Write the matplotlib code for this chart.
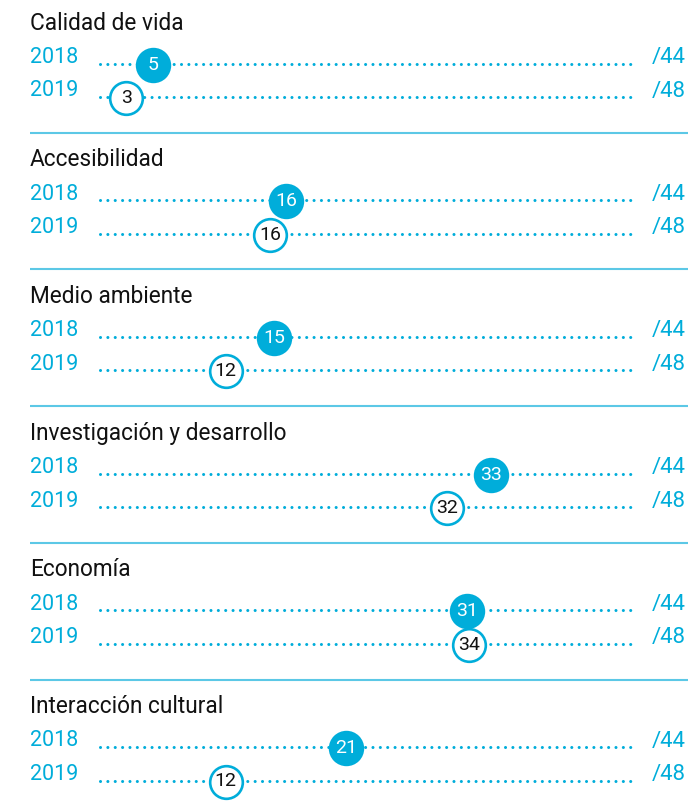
#!/usr/bin/env python3
"""
Ranking dot chart - 2018 vs 2019 positions per category.
"""

import matplotlib.pyplot as plt

categories = ["Calidad de vida", "Accesibilidad", "Medio ambiente",
              "Investigación y desarrollo", "Economía", "Interacción cultural"]
rank_2018 = [5, 16, 15, 33, 31, 21]
rank_2019 = [3, 16, 12, 32, 34, 12]
total_2018 = 44
total_2019 = 48
years = ["2018", "2019"]

CYAN = "#00ADDA"
LINE = "#5CC8E6"

W, H = 688, 810
X0, XW = 93, 531          # px where rank 0 / full scale sit
SEC = 136.7               # section height in px
TOP = -4.0                # px of (virtual) separator above first section

plt.rcParams['font.family'] = ['Roboto', 'DejaVu Sans']

fig = plt.figure(figsize=(W / 100, H / 100), dpi=100)
ax = fig.add_axes([0, 0, 1, 1])
ax.set_xlim(-X0 / XW, (W - X0) / XW)
ax.set_ylim(H, 0)
ax.axis('off')


def fx(px):
    return (px - X0) / XW


for i, cat in enumerate(categories):
    base = TOP + i * SEC
    if i > 0:
        ax.plot([fx(30), fx(W)], [base, base], color=LINE, lw=1.5,
                solid_capstyle='butt')
    ax.text(fx(30), base + 27, cat, fontsize=16.3, color='#111111',
            va='center', ha='left')

    rows = [(rank_2018[i], total_2018, True), (rank_2019[i], total_2019, False)]
    for j, (r, tot, filled) in enumerate(rows):
        ly = base + 67.5 + j * 33.5
        ax.text(fx(30), ly - 6, years[j], fontsize=15.5, color=CYAN,
                va='center', ha='left')
        ax.text(fx(652), ly - 6, f"/{tot}", fontsize=16, color=CYAN,
                va='center', ha='left')
        ax.plot([fx(100), fx(632)], [ly, ly], color=CYAN, lw=2.2,
                linestyle=(0, (0.01, 2.4)), dash_capstyle='round')
        cx = r / tot
        cy = ly + 1
        if filled:
            ax.scatter([cx], [cy], s=25.5 ** 2, color=CYAN, zorder=5,
                       linewidths=0)
            ax.text(cx, cy, str(r), fontsize=14, color='white',
                    ha='center', va='center', zorder=6)
        else:
            ax.scatter([cx], [cy], s=23.5 ** 2, facecolor='white',
                       edgecolor=CYAN, linewidths=1.9, zorder=5)
            ax.text(cx, cy, str(r), fontsize=14, color='#111111',
                    ha='center', va='center', zorder=6)

fig.savefig('out.png', dpi=100)
